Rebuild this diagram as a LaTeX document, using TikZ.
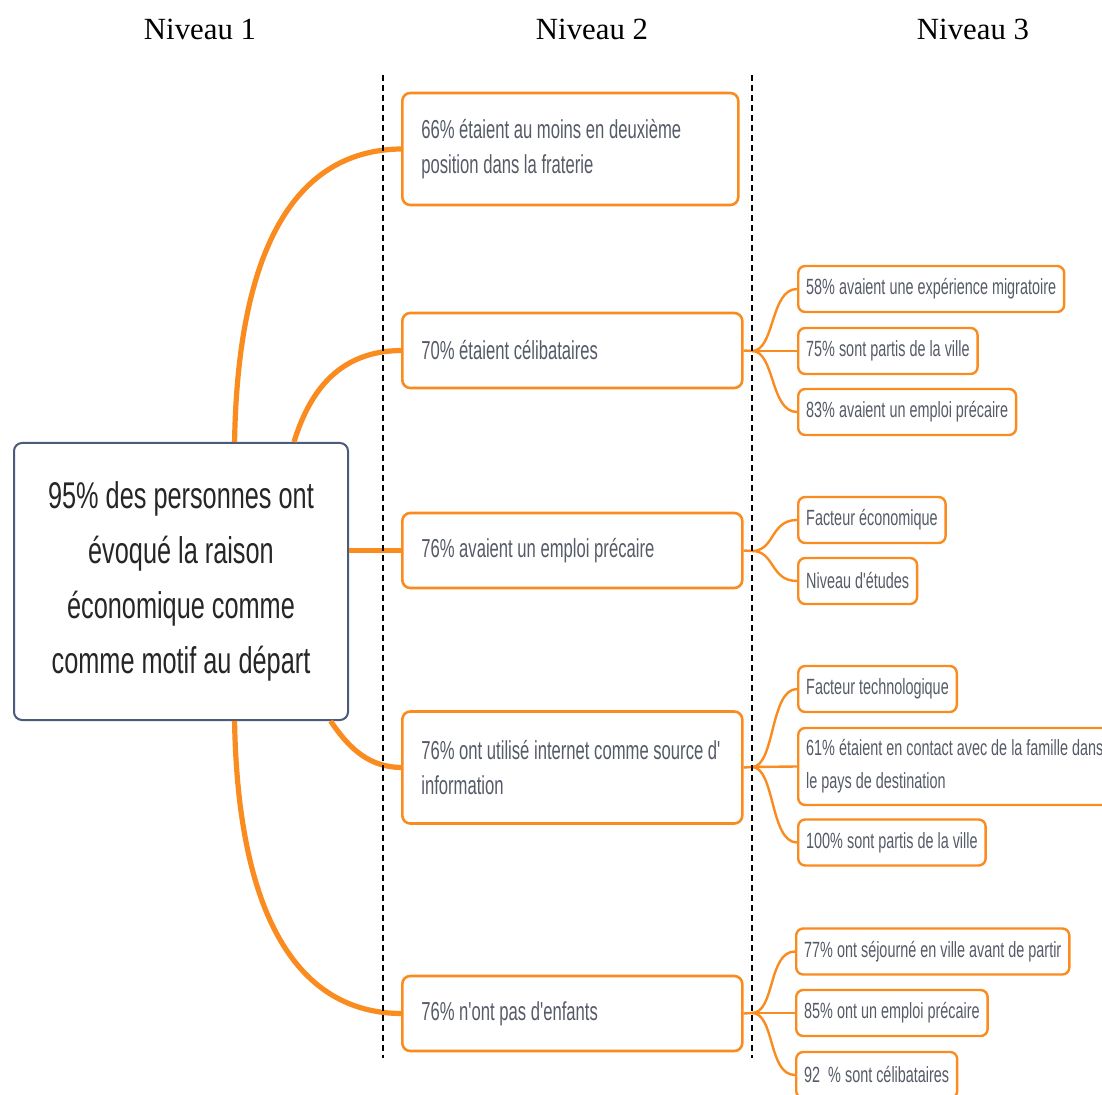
\documentclass[tikz,border=0pt]{standalone}
\usepackage{fontspec}
\setmainfont{Liberation Serif}
\newfontfamily\boxfont[FakeStretch=0.68]{Liberation Sans}
\newfontfamily\levelfont[FakeStretch=0.64]{Liberation Sans}
\newfontfamily\leaffont[FakeStretch=0.655]{Liberation Sans}
\usetikzlibrary{positioning}

\definecolor{mmorange}{HTML}{F98B1F}
\definecolor{rootblue}{HTML}{4B5B7A}
\definecolor{rootgray}{HTML}{262626}
\definecolor{boxgray}{HTML}{565B68}

\begin{document}
\begin{tikzpicture}[
    x=0.5pt, y=-0.5pt,
    headlabel/.style={font=\fontsize{15.4}{18}\selectfont, anchor=base},
    rootbox/.style={
        draw=rootblue,
        fill=white,
        rounded corners=4pt,
        line width=1pt,
        align=center,
        text=rootgray,
        font=\boxfont\fontsize{18.6}{27.5}\selectfont,
        minimum width=167pt,
        minimum height=138.5pt
    },
    levelbox/.style={
        draw=mmorange,
        fill=white,
        rounded corners=4pt,
        line width=1.3pt,
        anchor=west,
        align=left,
        text=boxgray,
        font=\levelfont\fontsize{13}{17.5}\selectfont,
        execute at begin node={\spaceskip=0pt\xspaceskip=0pt\relax},
        inner xsep=9.5pt,
        text width=151pt,
        minimum height=37.5pt
    },
    leafbox/.style={
        draw=mmorange,
        fill=white,
        rounded corners=3.5pt,
        line width=1.2pt,
        align=left,
        anchor=west,
        text=boxgray,
        font=\leaffont\fontsize{11}{16.5}\selectfont,
        inner xsep=4pt,
        minimum height=23pt
    },
    trunk/.style={draw=mmorange, line width=2.6pt},
    twig/.style={draw=mmorange, line width=1.2pt},
    guide/.style={draw=black, line width=0.7pt, dash pattern=on 3pt off 2pt}
]
    \useasboundingbox (0,0) rectangle (1102,1095);
    \clip (0,0) rectangle (1102,1095);

    % column titles
    \node[headlabel] (h1) at (200,40) {Niveau 1};
    \node[headlabel] (h2) at (592,40) {Niveau 2};
    \node[headlabel] (h3) at (973,40) {Niveau 3};

    % level 1
    \node[rootbox] (root) at (181,581.5) {
        95\% des personnes ont\\
        évoqué la raison\\
        économique comme\\
        comme motif au départ
    };

    % level 2
    \node[levelbox, text width=149pt, minimum height=56pt] (b1) at (401,149) {66\% étaient au moins en deuxième\\position dans la fraterie};
    \node[levelbox] (b2) at (401,350.5) {70\% étaient célibataires};
    \node[levelbox] (b3) at (401,550.5) {76\% avaient un emploi précaire};
    \node[levelbox, minimum height=56pt] (b4) at (401,767.5) {\mbox{76\% ont utilisé internet comme source d'}\\information};
    \node[levelbox] (b5) at (401,1013.5) {76\% n'ont pas d'enfants};

    % level 3
    \node[leafbox] (c1) at (797,289) {58\% avaient une expérience migratoire};
    \node[leafbox] (c2) at (797,351) {75\% sont partis de la ville};
    \node[leafbox] (c3) at (797,412) {83\% avaient un emploi précaire};

    \node[leafbox] (d1) at (797,520) {Facteur économique};
    \node[leafbox] (d2) at (797,581) {Niveau d'études};

    \node[leafbox] (e1) at (797,689) {Facteur technologique};
    \node[leafbox, minimum height=38.5pt] (e2) at (797,766.5) {61\% étaient en contact avec de la famille dans\\le pays de destination};
    \node[leafbox] (e3) at (797,842.5) {100\% sont partis de la ville};

    \node[leafbox] (f1) at (795,951.5) {77\% ont séjourné en ville avant de partir};
    \node[leafbox] (f2) at (795,1013) {85\% ont un emploi précaire};
    \node[leafbox] (f3) at (795,1075) {92~~\% sont célibataires};

    \coordinate (j2) at (752,351);
    \coordinate (j3) at (752,551);
    \coordinate (j4) at (752,767);
    \coordinate (j5) at (752,1013);

    % root branches
    \draw[trunk] (root.69) .. controls (238,240) and (300,150) .. (b1.west);
    \draw[trunk] (root.51) .. controls (310,390) and (340,351) .. (b2.west);
    \draw[trunk] (root.east |- b3.west) -- (b3.west);
    \draw[trunk] (root.-43) .. controls (350,750) and (370,767) .. (b4.west);
    \draw[trunk] (root.-69) .. controls (238,920) and (300,1013) .. (b5.west);

    % leaf branches
    \draw[twig] (b2.east) -- (j2);
    \draw[twig] (j2) .. controls (775,351) and (770,289) .. (c1.west);
    \draw[twig] (j2) -- (c2.west);
    \draw[twig] (j2) .. controls (775,351) and (770,412) .. (c3.west);

    \draw[twig] (b3.east) -- (j3);
    \draw[twig] (j3) .. controls (775,551) and (770,520) .. (d1.west);
    \draw[twig] (j3) .. controls (775,551) and (770,581) .. (d2.west);

    \draw[twig] (b4.east) -- (j4);
    \draw[twig] (j4) .. controls (775,767) and (770,689) .. (e1.west);
    \draw[twig] (j4) -- (e2.west);
    \draw[twig] (j4) .. controls (775,767) and (770,842.5) .. (e3.west);

    \draw[twig] (b5.east) -- (j5);
    \draw[twig] (j5) .. controls (775,1013) and (768,951.5) .. (f1.west);
    \draw[twig] (j5) -- (f2.west);
    \draw[twig] (j5) .. controls (775,1013) and (768,1075) .. (f3.west);

    % column separators
    \draw[guide] (383,75) -- (383,1058);
    \draw[guide] (752,75) -- (752,1058);
\end{tikzpicture}
\end{document}
